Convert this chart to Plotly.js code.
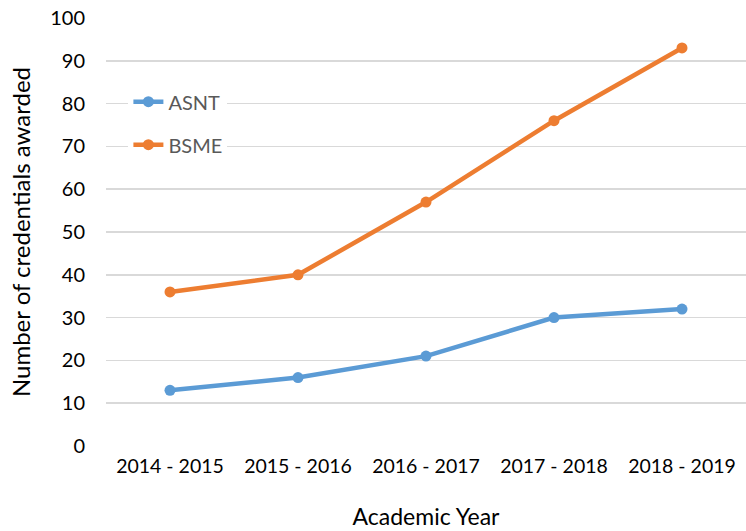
<!DOCTYPE html>
<html>
<head>
<meta charset="utf-8">
<script src="https://cdn.plot.ly/plotly-3.0.1.min.js"></script>
<style>html,body{margin:0;padding:0;background:#fff;}#chart{width:746px;height:531px;}</style>
</head>
<body>
<div id="chart"></div>
<script>
const years = ["2014 - 2015", "2015 - 2016", "2016 - 2017", "2017 - 2018", "2018 - 2019"];
const asnt = [13, 16, 21, 30, 32];
const bsme = [36, 40, 57, 76, 93];
const yTicks = [0, 10, 20, 30, 40, 50, 60, 70, 80, 90, 100];

const font = "Lato, 'Open Sans', sans-serif";
const traces = [
  {x: years, y: asnt, name: "ASNT", type: "scatter", mode: "lines+markers",
   legendgroup: "a",
   line: {color: "#5B9BD5", width: 4.5}, marker: {color: "#5B9BD5", size: 11}},
  {x: years, y: bsme, name: "BSME", type: "scatter", mode: "lines+markers",
   legendgroup: "b",
   line: {color: "#ED7D31", width: 4.5}, marker: {color: "#ED7D31", size: 11}}
];
const layout = {
  width: 746, height: 531,
  margin: {l: 106, r: 0, t: 18, b: 85},
  paper_bgcolor: "#fff", plot_bgcolor: "#fff",
  font: {family: font, color: "#000", size: 19},
  showlegend: true,
  legend: {x: 0.035, y: 0.85, xanchor: "left", yanchor: "top", bgcolor: "#fff",
           font: {family: font, size: 20, color: "#595959"},
           traceorder: "grouped", tracegroupgap: 14},
  xaxis: {type: "category", range: [-0.5, 4.5], showgrid: false, zeroline: false,
          showline: false, ticks: "", ticklabelstandoff: 6,
          tickfont: {family: font, size: 19.5, color: "#000"},
          title: {text: "Academic Year", font: {family: font, size: 23, color: "#000"}, standoff: 33}},
  yaxis: {range: [0, 100], tickvals: yTicks, showgrid: true, gridcolor: "#D9D9D9", gridwidth: 1.5,
          zeroline: false, showline: false, ticks: "", ticklabelstandoff: 20,
          tickfont: {family: font, size: 20, color: "#000"},
          title: {text: "Number of credentials awarded", font: {family: font, size: 24, color: "#000"}, standoff: 12}}
};
Plotly.newPlot("chart", traces, layout, {displayModeBar: false, staticPlot: true});
</script>
</body>
</html>
